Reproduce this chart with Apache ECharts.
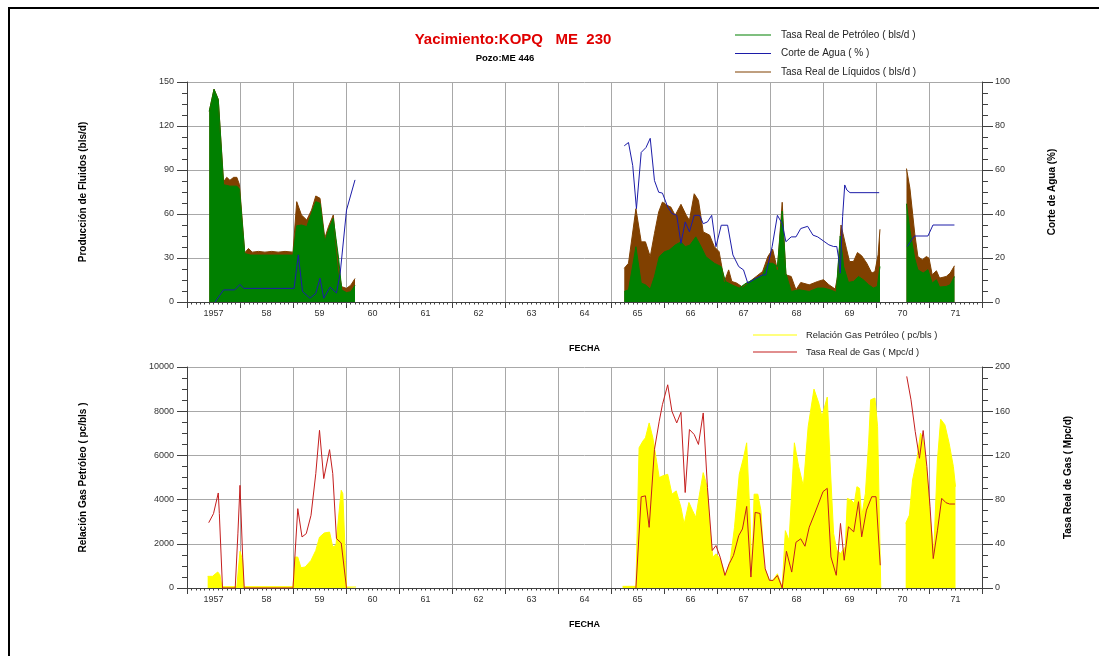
<!DOCTYPE html>
<html>
<head>
<meta charset="utf-8">
<title>Yacimiento KOPQ ME 230 - Pozo ME 446</title>
<script src="https://cdn.jsdelivr.net/npm/echarts@6/dist/echarts.min.js"></script>
<style>
  html, body { margin: 0; padding: 0; background: #fff; }
  #chart { width: 1099px; height: 656px; }
</style>
</head>
<body>
<div id="chart"></div>
<script>
// Year labels on the date axis (one per calendar year, centred in the year)
const yearLabels = ['1957', '58', '59', '60', '61', '62', '63', '64', '65', '66', '67', '68', '69', '70', '71'];

// Tasa Real de Petróleo (bls/d) - [decimal year, rate]
const oilRate = [
  [1957.42, 130], [1957.51, 145], [1957.59, 138], [1957.69, 80], [1957.81, 79], [1957.94, 79], [1957.99, 77],
  [1958.09, 33], [1958.2, 32], [1958.4, 32], [1958.6, 32], [1958.8, 32], [1959.0, 32],
  [1959.07, 52], [1959.16, 52.5], [1959.26, 51.4], [1959.35, 60.5], [1959.43, 68.4], [1959.51, 67.3],
  [1959.60, 41.2], [1959.67, 49.1], [1959.76, 57], [1959.86, 30], [1959.92, 8.2], [1960.01, 6.4],
  [1960.09, 7], [1960.17, 11.4],
  [1962, null],
  [1965.25, 7.2], [1965.33, 8.3], [1965.47, 37.7], [1965.57, 12.9], [1965.65, 11.7], [1965.74, 8.8],
  [1965.82, 17.4], [1965.91, 30.9], [1966.01, 34.3], [1966.10, 35.4], [1966.21, 38.8], [1966.32, 41],
  [1966.40, 37.7], [1966.49, 38.8], [1966.60, 44.4], [1966.70, 37.7], [1966.79, 30.9], [1966.95, 26.4],
  [1967.08, 24.1], [1967.16, 14], [1967.28, 11.7], [1967.42, 9.5], [1967.55, 12.9], [1967.74, 16.2],
  [1967.86, 18.5], [1967.96, 26.4], [1968.05, 26.4], [1968.14, 24.1], [1968.23, 62], [1968.30, 19.6],
  [1968.40, 7.2], [1968.55, 8.3], [1968.74, 7.2], [1968.90, 9.5], [1969.01, 9.5], [1969.13, 8.4],
  [1969.25, 6.6], [1969.275, 19.7], [1969.325, 45], [1969.39, 24.2], [1969.48, 13.4], [1969.575, 14],
  [1969.67, 17.4], [1969.76, 15.2], [1969.86, 11.8], [1969.95, 9.5], [1970.025, 10.6], [1970.075, 24.2],
  [1970.3, null],
  [1970.575, 67], [1970.64, 49], [1970.73, 29.9], [1970.79, 22], [1970.89, 19.7], [1970.98, 22],
  [1971.06, 12.9], [1971.14, 15.2], [1971.2, 10.2], [1971.325, 10.6], [1971.4, 11.8], [1971.48, 17.4]
];

// Tasa Real de Líquidos (bls/d)
const liquidRate = [
  [1957.42, 130], [1957.51, 145.2], [1957.59, 138.2], [1957.69, 82], [1957.75, 85], [1957.81, 83],
  [1957.88, 85], [1957.94, 85], [1957.99, 80], [1958.09, 33.5], [1958.16, 36.5], [1958.23, 34],
  [1958.35, 34.5], [1958.47, 34], [1958.6, 34.5], [1958.72, 34], [1958.85, 34.5], [1959.0, 34],
  [1959.07, 68.4], [1959.16, 59.3], [1959.26, 55.9], [1959.35, 62.7], [1959.43, 72.3], [1959.51, 70.7],
  [1959.60, 43.5], [1959.67, 51.4], [1959.76, 59.3], [1959.86, 21.8], [1959.92, 10.4], [1960.01, 9.3],
  [1960.09, 11.5], [1960.17, 16],
  [1962, null],
  [1965.25, 23], [1965.33, 26.4], [1965.47, 63.6], [1965.57, 41], [1965.65, 41], [1965.74, 30.9],
  [1965.82, 46.7], [1965.90, 61.4], [1965.97, 68.1], [1966.06, 65.9], [1966.13, 64.7], [1966.21, 59.1],
  [1966.32, 66.6], [1966.42, 59.1], [1966.48, 55.7], [1966.57, 73.8], [1966.65, 69.3], [1966.74, 47.8],
  [1966.86, 45.6], [1966.95, 37.7], [1967.04, 34.3], [1967.14, 14], [1967.22, 21.9], [1967.28, 14],
  [1967.37, 12.9], [1967.48, 10.2], [1967.58, 12.9], [1967.74, 17.4], [1967.86, 20.8], [1967.96, 31],
  [1968.05, 36], [1968.14, 22], [1968.23, 68], [1968.30, 18.5], [1968.40, 17.4], [1968.49, 8.3],
  [1968.58, 13.3], [1968.74, 11.7], [1968.90, 14], [1969.01, 15.2], [1969.11, 11.8], [1969.23, 8.8],
  [1969.275, 17.4], [1969.34, 52.5], [1969.375, 46.9], [1969.44, 36.7], [1969.50, 27.6], [1969.575, 27.6],
  [1969.65, 33.7], [1969.73, 31.5], [1969.825, 26.5], [1969.92, 19.7], [1969.98, 20.8], [1970.04, 32.2],
  [1970.075, 49.6],
  [1970.3, null],
  [1970.575, 91], [1970.64, 77.5], [1970.73, 46.9], [1970.79, 31], [1970.875, 28.8], [1970.95, 31],
  [1971.0, 29.9], [1971.06, 18.6], [1971.14, 21.3], [1971.2, 16.3], [1971.325, 17.4], [1971.4, 19.7],
  [1971.48, 24.7]
];

// Corte de Agua (%)
const waterCut = [
  [1957.53, 0], [1957.69, 5.5], [1957.9, 5.5], [1958.0, 8], [1958.07, 6.2], [1959.02, 6.2],
  [1959.1, 21.4], [1959.18, 4.8], [1959.32, 1.7], [1959.43, 3.9], [1959.51, 10.8], [1959.58, 1.7],
  [1959.70, 6.8], [1959.82, 4.1], [1959.89, 13], [1960.01, 41.8], [1960.17, 55.5],
  [1962, null],
  [1965.25, 71], [1965.33, 72.5], [1965.41, 62], [1965.48, 42.4], [1965.57, 68], [1965.66, 70.2],
  [1965.74, 74.4], [1965.82, 55.2], [1965.90, 49.9], [1965.97, 49.5], [1966.07, 43.2], [1966.15, 40.2],
  [1966.24, 39.4], [1966.32, 26.6], [1966.40, 36.4], [1966.48, 31.9], [1966.57, 39.4], [1966.67, 39.4],
  [1966.74, 35.6], [1966.82, 36.4], [1966.90, 39.4], [1966.98, 25.1], [1967.08, 34.9], [1967.20, 34.9],
  [1967.30, 21.4], [1967.41, 16.1], [1967.50, 14.6], [1967.58, 8.6], [1967.74, 10.8], [1967.86, 12.3],
  [1967.92, 12.3], [1968.04, 25.1], [1968.14, 39.4], [1968.23, 35.6], [1968.30, 27.4], [1968.40, 29.6],
  [1968.49, 29.6], [1968.58, 33.4], [1968.71, 34.4], [1968.81, 30.4], [1968.90, 29.6], [1969.11, 26],
  [1969.2, 25.2], [1969.26, 25.2], [1969.29, 20.7], [1969.325, 13.1], [1969.37, 38.8], [1969.41, 53.2],
  [1969.45, 50.9], [1969.51, 49.7], [1970.06, 49.7],
  [1970.3, null],
  [1970.59, 25.2], [1970.67, 28.2], [1970.73, 30], [1970.98, 30], [1971.075, 35], [1971.48, 35]
];

// Relación Gas Petróleo (pc/bls)
const gasOilRatio = [
  [1957.39, 528], [1957.48, 528], [1957.58, 724], [1957.62, 600], [1957.66, 60], [1957.94, 60],
  [1958.0, 1659], [1958.05, 1250], [1958.07, 60], [1959.0, 60], [1959.04, 1400], [1959.09, 1400],
  [1959.15, 920], [1959.23, 950], [1959.34, 1250], [1959.43, 1700], [1959.50, 2300], [1959.59, 2490],
  [1959.69, 2530], [1959.75, 1855], [1959.81, 1930], [1959.86, 3210], [1959.91, 4420], [1959.94, 4270],
  [1959.99, 1250], [1960.01, 45], [1960.19, 45],
  [1962, null],
  [1965.22, 75], [1965.47, 75], [1965.53, 6345], [1965.60, 6645], [1965.65, 6795], [1965.72, 7470],
  [1965.79, 6795], [1965.85, 5895], [1965.91, 4995], [1965.97, 5070], [1966.07, 5145], [1966.15, 4245],
  [1966.23, 4395], [1966.32, 3645], [1966.38, 2895], [1966.47, 3870], [1966.54, 3495], [1966.60, 3195],
  [1966.67, 4245], [1966.74, 5220], [1966.81, 4620], [1966.87, 2595], [1966.92, 1395], [1966.98, 1545],
  [1967.06, 1320], [1967.16, 570], [1967.25, 1245], [1967.33, 2745], [1967.42, 5145], [1967.50, 5895],
  [1967.56, 6570], [1967.62, 3345], [1967.66, 645], [1967.70, 4245], [1967.77, 4245], [1967.83, 3495],
  [1967.89, 945], [1967.99, 345], [1968.05, 345], [1968.14, 645], [1968.23, 45], [1968.29, 2595],
  [1968.36, 2145], [1968.46, 6570], [1968.54, 5500], [1968.63, 4600], [1968.72, 7300], [1968.83, 9000],
  [1968.92, 8367], [1968.98, 7762], [1969.08, 8640], [1969.14, 5341], [1969.20, 2466], [1969.26, 1710],
  [1969.33, 1558], [1969.42, 1861], [1969.46, 4055], [1969.53, 3979], [1969.59, 3828], [1969.64, 4584],
  [1969.69, 4509], [1969.73, 3223], [1969.80, 4282], [1969.86, 6551], [1969.90, 8518], [1969.98, 8594],
  [1970.03, 7308], [1970.09, 0],
  [1970.3, null],
  [1970.56, 2920], [1970.63, 3298], [1970.69, 4887], [1970.77, 5795], [1970.84, 7005], [1970.89, 6702],
  [1970.96, 5190], [1971.02, 3223], [1971.09, 1710], [1971.16, 5795], [1971.22, 7640], [1971.30, 7383],
  [1971.38, 6551], [1971.46, 5492], [1971.50, 4584]
];

// Tasa Real de Gas (Mpc/d)
const gasRate = [
  [1957.41, 59.1], [1957.50, 67.3], [1957.59, 86], [1957.61, 67.3], [1957.67, 0], [1957.91, 0],
  [1957.96, 49], [1958.0, 92.9], [1958.05, 28], [1958.08, 0], [1959.0, 0], [1959.09, 71.8],
  [1959.17, 46.2], [1959.25, 49.2], [1959.34, 65.8], [1959.43, 103.5], [1959.50, 142.7], [1959.58, 99],
  [1959.69, 125.2], [1959.75, 103.5], [1959.82, 44.7], [1959.91, 40.7], [1960.01, 0],
  [1962, null],
  [1965.47, 0], [1965.57, 82.5], [1965.65, 83.4], [1965.72, 54.9], [1965.82, 125.4], [1965.91, 150.9],
  [1965.97, 165.9], [1966.07, 183.9], [1966.15, 159.9], [1966.24, 149.4], [1966.32, 159], [1966.40, 86.4],
  [1966.48, 143.4], [1966.57, 138.9], [1966.65, 129.9], [1966.74, 158.4], [1966.82, 90.9], [1966.91, 33.9],
  [1966.98, 38.4], [1967.06, 27.9], [1967.15, 11.4], [1967.23, 21.9], [1967.31, 29.4], [1967.41, 47.4],
  [1967.48, 53.4], [1967.56, 73.8], [1967.64, 9.9], [1967.72, 68.4], [1967.81, 67.5], [1967.91, 17.4],
  [1967.99, 6.9], [1968.06, 6.9], [1968.14, 11.4], [1968.23, 0], [1968.31, 33.3], [1968.41, 14.4],
  [1968.49, 41.4], [1968.58, 44.5], [1968.66, 37.8], [1968.74, 55], [1968.84, 67], [1968.92, 77],
  [1969.0, 87.2], [1969.08, 90.2], [1969.15, 28.1], [1969.25, 11.5], [1969.33, 58.4], [1969.40, 25.1],
  [1969.48, 55.4], [1969.58, 50.8], [1969.67, 78.1], [1969.73, 46.3], [1969.82, 70.5], [1969.92, 82.6],
  [1970.0, 82.6], [1970.08, 20.6],
  [1970.3, null],
  [1970.58, 191.5], [1970.66, 170.4], [1970.74, 141.6], [1970.82, 117.4], [1970.89, 142.5], [1970.96, 109.8],
  [1971.02, 73.5], [1971.08, 26.6], [1971.16, 52.3], [1971.24, 81.1], [1971.32, 77.2], [1971.39, 76],
  [1971.49, 76]
];

const FONT = '"Liberation Sans", Arial, sans-serif';
const AXIS_COLOR = '#404040';
const GRID_COLOR = '#a8a8a8';
const LABEL_COLOR = '#333';

function dateAxis(gridIndex, nameGap) {
  return {
    type: 'value', gridIndex: gridIndex,
    min: 1957, max: 1972, interval: 1,
    axisLine: { show: true, onZero: false, lineStyle: { color: AXIS_COLOR, width: 1 } },
    axisTick: { show: true, length: 6, lineStyle: { color: AXIS_COLOR } },
    minorTick: { show: true, splitNumber: 12, length: 2.5, lineStyle: { color: AXIS_COLOR } },
    splitLine: { show: true, lineStyle: { color: GRID_COLOR, width: 1 } },
    axisLabel: {
      showMinLabel: true, showMaxLabel: true, margin: 7,
      formatter: function (v) {
        const lbl = yearLabels[Math.round(v) - 1957];
        return lbl ? '{y|' + lbl + '}' : '';
      },
      rich: { y: { padding: [0, 0, 0, 53], fontSize: 9, color: LABEL_COLOR, fontFamily: FONT } }
    },
    name: 'FECHA', nameLocation: 'middle', nameGap: nameGap,
    nameTextStyle: { fontWeight: 'bold', fontSize: 9, color: '#000', fontFamily: FONT }
  };
}

function valueAxis(gridIndex, position, max, interval, name, nameGap, split, tickLen, labelMargin) {
  return {
    type: 'value', gridIndex: gridIndex, position: position,
    min: 0, max: max, interval: interval,
    axisLine: { show: true, lineStyle: { color: AXIS_COLOR, width: 1 } },
    axisTick: { show: true, length: tickLen, lineStyle: { color: AXIS_COLOR } },
    minorTick: { show: true, splitNumber: 4, length: Math.round(tickLen / 2), lineStyle: { color: AXIS_COLOR } },
    splitLine: { show: split, lineStyle: { color: GRID_COLOR, width: 1 } },
    axisLabel: {
      margin: labelMargin, fontSize: 9, color: LABEL_COLOR, fontFamily: FONT,
      formatter: function (v) { return String(v); }
    },
    name: name, nameLocation: 'middle', nameGap: nameGap, nameRotate: 90,
    nameTextStyle: { fontWeight: 'bold', fontSize: 10, color: '#000', fontFamily: FONT }
  };
}

function lineSeries(name, data, xi, yi, color, filled) {
  const s = {
    name: name, type: 'line', data: data,
    xAxisIndex: xi, yAxisIndex: yi,
    showSymbol: false, symbol: 'none', connectNulls: false,
    itemStyle: { color: color },
    lineStyle: { color: color, width: 1 },
    emphasis: { disabled: true },
    silent: true
  };
  if (filled) s.areaStyle = { color: color, opacity: 1 };
  return s;
}

const chart = echarts.init(document.getElementById('chart'), null, { renderer: 'canvas' });

chart.setOption({
  animation: false,
  backgroundColor: '#fff',
  textStyle: { fontFamily: FONT },
  graphic: [
    { type: 'rect', shape: { x: 9, y: 8, width: 1200, height: 800 },
      style: { fill: 'none', stroke: '#000', lineWidth: 2 }, silent: true },
    { type: 'text', x: 513, y: 40,
      style: { text: 'Yacimiento:KOPQ   ME  230', align: 'center', verticalAlign: 'middle',
               font: 'bold 15px ' + FONT, fill: '#e00000' } },
    { type: 'text', x: 505, y: 58,
      style: { text: 'Pozo:ME 446', align: 'center', verticalAlign: 'middle',
               font: 'bold 9.5px ' + FONT, fill: '#000' } }
  ],
  legend: [
    {
      orient: 'vertical', left: 735, top: 29, padding: 0,
      itemWidth: 36, itemHeight: 1, itemGap: 6.5,
      icon: 'rect', selectedMode: false,
      textStyle: { fontSize: 10, color: '#222', fontFamily: FONT, lineHeight: 12, padding: [0, 0, 0, 5] },
      data: ['Tasa Real de Petróleo ( bls/d )', 'Corte de Agua ( % )', 'Tasa Real de Líquidos ( bls/d )']
    },
    {
      orient: 'vertical', left: 753, top: 329, padding: 0,
      itemWidth: 44, itemHeight: 1, itemGap: 5,
      icon: 'rect', selectedMode: false,
      textStyle: { fontSize: 9.3, color: '#222', fontFamily: FONT, lineHeight: 12, padding: [0, 0, 0, 4] },
      data: ['Relación Gas Petróleo ( pc/bls )', 'Tasa Real de Gas ( Mpc/d )']
    }
  ],
  grid: [
    { left: 187, right: 117, top: 82, height: 220, containLabel: false },
    { left: 187, right: 117, top: 367, height: 221, containLabel: false }
  ],
  xAxis: [dateAxis(0, 42), dateAxis(1, 32)],
  yAxis: [
    valueAxis(0, 'left', 150, 30, 'Producción de Fluidos (bls/d)', 99, true, 10, 13),
    valueAxis(0, 'right', 100, 20, 'Corte de Agua (%)', 65, false, 11, 13),
    valueAxis(1, 'left', 10000, 2000, 'Relación Gas Petróleo ( pc/bls )', 99, true, 10, 13),
    valueAxis(1, 'right', 200, 40, 'Tasa Real de Gas ( Mpc/d)', 81, false, 11, 13)
  ],
  series: [
    lineSeries('Tasa Real de Líquidos ( bls/d )', liquidRate, 0, 0, '#804000', true),
    lineSeries('Tasa Real de Petróleo ( bls/d )', oilRate, 0, 0, '#008000', true),
    lineSeries('Corte de Agua ( % )', waterCut, 0, 1, '#1c1ca8', false),
    lineSeries('Relación Gas Petróleo ( pc/bls )', gasOilRatio, 1, 2, '#ffff00', true),
    lineSeries('Tasa Real de Gas ( Mpc/d )', gasRate, 1, 3, '#c41e1e', false)
  ]
});
</script>
</body>
</html>
